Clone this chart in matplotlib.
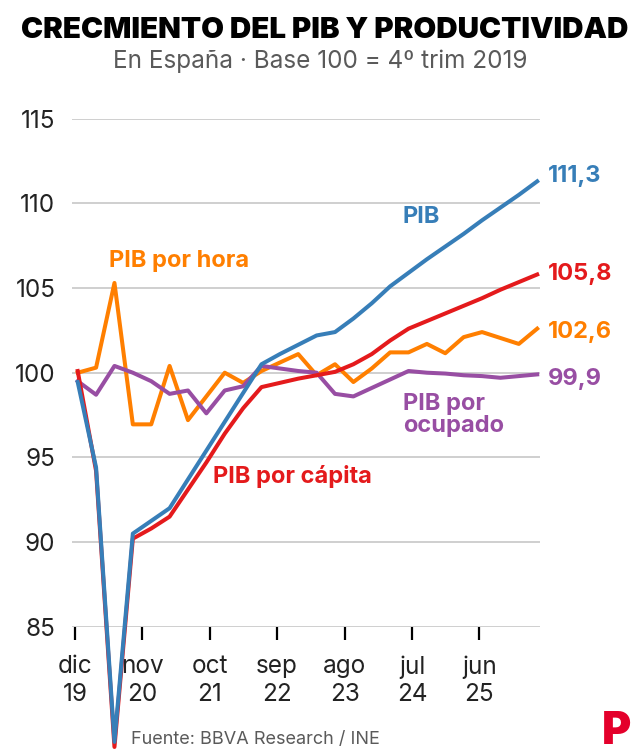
# Crecimiento del PIB y productividad en España (base 100 = 4º trim 2019)
import numpy as np
import matplotlib.pyplot as plt

# quarters from 4T 2019 onwards, x in months since dic 2019
quarters = np.arange(26)
months = 0.44 + 3 * quarters

pib = [99.45, 94.4, 78.2, 90.5, 91.25, 92.0, 93.7, 95.4, 97.1, 98.8,
       100.5, 101.1, 101.65, 102.2, 102.4, 103.2, 104.1, 105.1, 105.9, 106.7,
       107.45, 108.2, 109.0, 109.75, 110.5, 111.3]
pib_capita = [100.1, 94.2, 77.9, 90.2, 90.8, 91.5, 93.1, 94.7, 96.4, 97.9,
              99.15, 99.4, 99.65, 99.85, 100.05, 100.5, 101.1, 101.9, 102.6, 103.05,
              103.5, 103.95, 104.4, 104.9, 105.35, 105.8]
pib_hora = [100.0, 100.3, 105.3, 96.95, 96.95, 100.4, 97.2, 98.6, 100.0, 99.4,
            100.1, 100.6, 101.1, 99.85, 100.5, 99.45, 100.25, 101.2, 101.2, 101.7,
            101.15, 102.1, 102.4, 102.05, 101.7, 102.6]
pib_ocupado = [99.5, 98.7, 100.4, 100.0, 99.5, 98.75, 98.95, 97.6, 98.95, 99.2,
               100.4, 100.25, 100.1, 100.0, 98.75, 98.6, 99.1, 99.6, 100.1, 100.0,
               99.95, 99.85, 99.8, 99.7, 99.8, 99.9]

tick_pos = [0, 11, 22, 33, 44, 55, 66]
tick_labels = ["dic\n19", "nov\n20", "oct\n21", "sep\n22", "ago\n23", "jul\n24", "jun\n25"]
y_ticks = [85, 90, 95, 100, 105, 110, 115]

blue, red, orange, purple = "#377eb8", "#e41a1c", "#ff7f00", "#984ea3"
font = ["Inter", "Roboto", "DejaVu Sans"]
plt.rcParams["font.family"] = font

fig = plt.figure(figsize=(6.4, 7.56), dpi=100)
ax = fig.add_axes([0.1125, 0.171, 0.73125, 0.672])

lw = 2.9
ax.plot(months, pib_hora, color=orange, lw=lw, clip_on=False, zorder=3)
ax.plot(months, pib_ocupado, color=purple, lw=lw, clip_on=False, zorder=4)
ax.plot(months, pib_capita, color=red, lw=lw, clip_on=False, zorder=5)
ax.plot(months, pib, color=blue, lw=lw, clip_on=False, zorder=6)

ax.set_xlim(-0.49, 75.9)
ax.set_ylim(85, 115)
ax.set_yticks(y_ticks)
ax.set_yticklabels([str(v) for v in y_ticks])
ax.set_xticks(tick_pos)
ax.set_xticklabels(tick_labels, linespacing=1.25)
ax.grid(axis="y", color="#cccccc", lw=1.3)
ax.set_axisbelow(True)
for s in ax.spines.values():
    s.set_visible(False)
ax.tick_params(axis="y", length=0, pad=12, labelsize=17.5, labelcolor="#222222")
ax.tick_params(axis="x", length=9.5, width=1.6, color="black", pad=11,
               labelsize=17.5, labelcolor="#222222")

# end values
lab = dict(fontsize=17, fontweight="bold", va="center", ha="left", clip_on=False)
ax.text(77.2, 111.6, "111,3", color=blue, **lab)
ax.text(77.2, 105.8, "105,8", color=red, **lab)
ax.text(77.2, 102.4, "102,6", color=orange, **lab)
ax.text(77.2, 99.6, "99,9", color=purple, **lab)

# series names
nm = dict(fontsize=17, fontweight="bold", va="center", ha="left")
ax.text(53.5, 109.2, "PIB", color=blue, **nm)
ax.text(5.55, 106.6, "PIB por hora", color=orange, **nm)
ax.text(22.5, 93.9, "PIB por cápita", color=red, **nm)
ax.text(53.5, 97.5, "PIB por\nocupado", color=purple, linespacing=1.05, **nm)

fig.text(0.508, 0.959, "CRECMIENTO DEL PIB Y PRODUCTIVIDAD", ha="center", va="center",
         fontsize=21.3, fontweight="black", color="black")
fig.text(0.5, 0.919, "En España · Base 100 = 4º trim 2019", ha="center", va="center",
         fontsize=17.5, color="#5a5a5a")
fig.text(0.205, 0.022, "Fuente: BBVA Research / INE", ha="left", va="center",
         fontsize=13, color="#5a5a5a")
fig.text(0.94, 0.032, "P", ha="left", va="center", fontsize=32, fontweight="black",
         color="#e4002b")

fig.savefig("out.png", dpi=100)
